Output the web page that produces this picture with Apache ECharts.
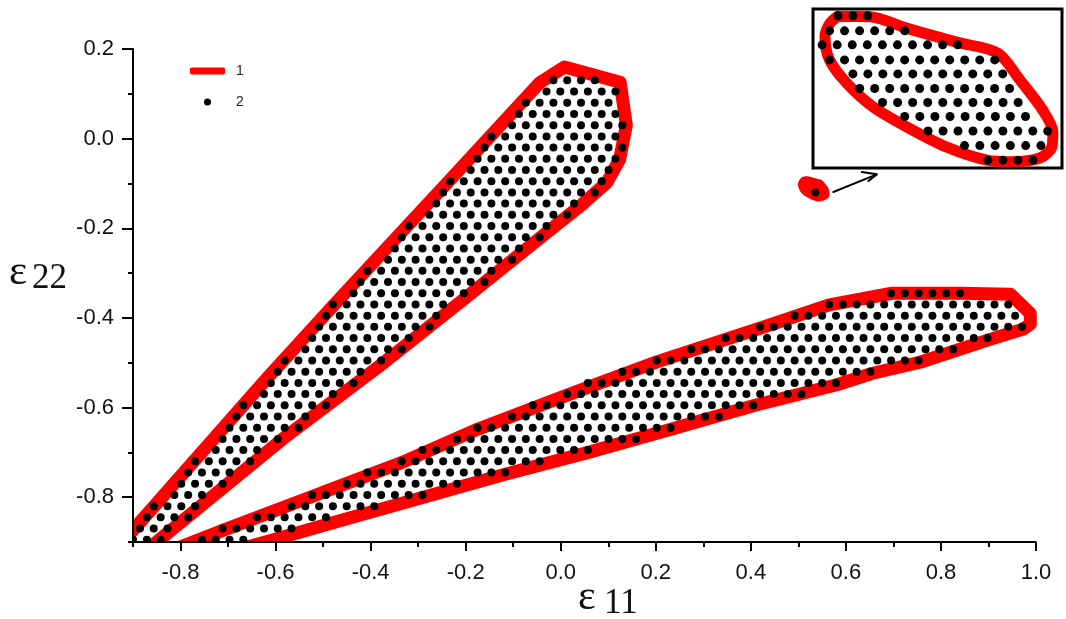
<!DOCTYPE html>
<html><head><meta charset="utf-8">
<script src="https://cdn.jsdelivr.net/npm/echarts@6/dist/echarts.min.js"></script>
<style>html,body{margin:0;padding:0;background:#fff}#c{width:1066px;height:619px}</style>
</head><body><div id="c"></div>
<script>
// ---- tick labels ----
const X_LABELS = [-0.8,-0.6,-0.4,-0.2,0,0.2,0.4,0.6,0.8,1.0];
const X_MINOR = [-0.9,-0.7,-0.5,-0.3,-0.1,0.1,0.3,0.5,0.7,0.9];
const Y_LABELS = [-0.8,-0.6,-0.4,-0.2,0,0.2];
const Y_MINOR = [-0.9,-0.7,-0.5,-0.3,-0.1,0.1];

// ---- boundary curves (series 1) [eps11, eps22] ----
const UPPER_BOUNDARY = [[-0.93,-0.91],[-0.892,-0.864],[-0.619,-0.536],[-0.480,-0.374],[-0.233,-0.092],[-0.044,0.125],[0.008,0.160],[0.125,0.126],[0.138,0.030],[0.124,-0.046],[0.097,-0.098],[0.040,-0.151],[-0.029,-0.209],[-0.212,-0.365],[-0.381,-0.507],[-0.585,-0.670],[-0.848,-0.898],[-0.90,-0.94]];
const LOWER_BOUNDARY = [[-0.83,-0.923],[-0.766,-0.897],[-0.711,-0.874],[-0.522,-0.798],[-0.335,-0.723],[-0.174,-0.648],[0.012,-0.573],[0.202,-0.498],[0.419,-0.423],[0.565,-0.371],[0.697,-0.345],[0.840,-0.345],[0.946,-0.347],[0.988,-0.390],[0.988,-0.414],[0.973,-0.425],[0.900,-0.449],[0.756,-0.499],[0.6545,-0.524],[0.581,-0.549],[0.405,-0.596],[0.234,-0.648],[0.058,-0.700],[-0.117,-0.749],[-0.289,-0.800],[-0.45,-0.848],[-0.612,-0.897],[-0.70,-0.923]];
const SMALL_BOUNDARY = [[0.5145,-0.0986],[0.5202,-0.0987],[0.5266,-0.1008],[0.5354,-0.1034],[0.5426,-0.1054],[0.5465,-0.1104],[0.5505,-0.1160],[0.5523,-0.1201],[0.5521,-0.1229],[0.5500,-0.1249],[0.5452,-0.1256],[0.5407,-0.1253],[0.5337,-0.1229],[0.5266,-0.1191],[0.5207,-0.1154],[0.5161,-0.1110],[0.5131,-0.1067],[0.5123,-0.1024],[0.5131,-0.1000],[0.5145,-0.0986]];

// ---- dot rows (series 2): [eps22, first eps11, last eps11, count] ----
const UPPER_DOT_ROWS = [
[0.130,-0.0154,0.0716,4],[0.105,-0.0299,0.1151,6],[0.080,-0.0734,0.1006,7],[0.055,-0.0879,0.1151,8],
[0.030,-0.1024,0.1296,9],[0.005,-0.1459,0.1151,10],[-0.020,-0.1604,0.1296,11],[-0.045,-0.1749,0.1151,11],
[-0.070,-0.1894,0.1006,11],[-0.095,-0.2329,0.0861,12],[-0.120,-0.2474,0.0716,12],[-0.145,-0.2619,0.0281,11],
[-0.170,-0.2764,0.0136,11],[-0.195,-0.3199,-0.0299,11],[-0.220,-0.3344,-0.0444,11],[-0.245,-0.3489,-0.0879,10],
[-0.270,-0.3634,-0.1024,10],[-0.295,-0.4069,-0.1459,10],[-0.320,-0.4214,-0.1604,10],[-0.345,-0.4359,-0.2039,9],
[-0.370,-0.4794,-0.2474,9],[-0.395,-0.4939,-0.2619,9],[-0.420,-0.5084,-0.2764,9],[-0.445,-0.5229,-0.3199,8],
[-0.470,-0.5374,-0.3344,8],[-0.495,-0.5809,-0.3779,8],[-0.520,-0.5954,-0.4214,7],[-0.545,-0.6099,-0.4359,7],
[-0.570,-0.6244,-0.4794,6],[-0.595,-0.6679,-0.4939,7],[-0.620,-0.6824,-0.5374,6],[-0.645,-0.6969,-0.5519,6],
[-0.670,-0.7114,-0.5954,5],[-0.695,-0.7259,-0.6389,4],[-0.720,-0.7694,-0.6534,5],[-0.745,-0.7839,-0.6969,4],
[-0.770,-0.7984,-0.7114,4],[-0.795,-0.8129,-0.7549,3],[-0.820,-0.8564,-0.7694,4],[-0.845,-0.8709,-0.7839,4],
[-0.870,-0.8854,-0.8274,3],[-0.895,-0.8999,-0.8419,3]
];
const LOWER_DOT_ROWS = [
[-0.345,0.6951,0.8401,6],[-0.370,0.5646,0.9416,14],[-0.395,0.4921,0.9561,17],[-0.420,0.4196,0.9706,20],
[-0.445,0.3471,0.8981,20],[-0.470,0.2746,0.8256,20],[-0.495,0.2021,0.7531,20],[-0.520,0.1296,0.6516,19],
[-0.545,0.0571,0.5791,19],[-0.570,0.0136,0.5066,18],[-0.595,-0.0589,0.4051,17],[-0.620,-0.1024,0.3326,16],
[-0.645,-0.1749,0.2311,15],[-0.670,-0.2184,0.1586,14],[-0.695,-0.2909,0.0571,13],[-0.720,-0.3344,-0.0444,11],
[-0.745,-0.4069,-0.1169,11],[-0.770,-0.4504,-0.2184,9],[-0.795,-0.5229,-0.2909,9],[-0.820,-0.5664,-0.3924,7],
[-0.845,-0.6389,-0.4939,6],[-0.870,-0.7114,-0.5664,6],[-0.895,-0.7549,-0.6679,4]
];
const SMALL_DOT_ROWS = [[-0.120,0.5356,0.5356,1]];
const INSET_DOT_ROWS = [
[-0.0985,0.5146,0.5198,3],[-0.1013,0.5131,0.5263,6],[-0.1039,0.5118,0.5356,10],[-0.1067,0.5131,0.5421,12],
[-0.1093,0.5172,0.5435,11],[-0.1120,0.5184,0.5447,11],[-0.1146,0.5224,0.5462,10],[-0.1172,0.5263,0.5475,9],
[-0.1199,0.5304,0.5514,9],[-0.1226,0.5368,0.5502,6],[-0.1253,0.5409,0.5488,4]
];
// inset window (zoomed view of the small region)
const INSET_X_RANGE = [0.5102, 0.5539];
const INSET_Y_RANGE = [-0.12676, -0.09725];
// arrow pointing from the small region to the inset
const ARROW_SHAFT = [[0.5737,-0.1191],[0.665,-0.0797]];
const ARROW_HEAD = [[0.6335,-0.0746],[0.665,-0.0797],[0.6474,-0.0947]];

function rowsToPoints(rows){
  const pts = [];
  rows.forEach(function(r){
    const y=r[0], a=r[1], b=r[2], n=r[3];
    for (let i=0;i<n;i++){ pts.push([n>1 ? a+(b-a)*i/(n-1) : a, y]); }
  });
  return pts;
}

const RED = '#ff0000';
const FONT = '"Liberation Sans", Arial, sans-serif';
const SERIF = '"Liberation Serif", "Times New Roman", serif';
const chart = echarts.init(document.getElementById('c'), null, {renderer:'canvas'});

function boundary(data, width, xi, smooth){
  return {type:'line', name:'1', data:data, xAxisIndex:xi, yAxisIndex:xi, showSymbol:false, symbol:'none',
    smooth:smooth||false, clip:true, silent:true, z:2,
    lineStyle:{color:RED, width:width, cap:'round', join:'round', opacity:1}, itemStyle:{color:RED}};
}
function dots(data, size, xi){
  return {type:'scatter', name:'2', data:data, xAxisIndex:xi, yAxisIndex:xi, symbol:'circle', symbolSize:size,
    silent:true, z:3, itemStyle:{color:'#000', opacity:1}};
}
function blackLine(data){
  return {type:'line', name:'arrow', data:data, showSymbol:false, symbol:'none', silent:true, z:4,
    lineStyle:{color:'#000', width:2, cap:'round'}, itemStyle:{color:'#000'}};
}

const tickStyle = {color:'#000', width:2};
const option = {
  animation:false,
  backgroundColor:'#fff',
  grid:[
    {left:133, top:49, right:30, bottom:77},
    {left:813, top:9, width:249, height:159, show:true, borderColor:'#000', borderWidth:3, backgroundColor:'#fff'}
  ],
  legend:{
    orient:'vertical', left:190, top:64, padding:0, itemWidth:35, itemHeight:7, itemGap:17, selectedMode:false,
    data:[{name:'1', icon:'roundRect'},{name:'2', icon:'circle'}],
    textStyle:{fontSize:14, color:'#222', fontFamily:FONT, padding:[0,0,0,6]}
  },
  xAxis:[
    {gridIndex:0, type:'value', min:-0.9, max:1.0, interval:0.1, position:'bottom', z:10,
     axisLine:{onZero:false, lineStyle:tickStyle},
     axisTick:{customValues:X_LABELS, length:9, lineStyle:tickStyle},
     axisLabel:{customValues:X_LABELS, formatter:function(v){return (+v).toFixed(1);}, fontSize:22, color:'#111', fontFamily:FONT, margin:20},
     splitLine:{show:false}},
    {gridIndex:0, type:'value', min:-0.9, max:1.0, interval:0.1, position:'bottom', z:10,
     axisLine:{show:false, onZero:false}, axisTick:{customValues:X_MINOR, length:5, lineStyle:tickStyle},
     axisLabel:{show:false}, splitLine:{show:false}},
    {gridIndex:1, type:'value', min:INSET_X_RANGE[0], max:INSET_X_RANGE[1], show:false, splitLine:{show:false}}
  ],
  yAxis:[
    {gridIndex:0, type:'value', min:-0.9, max:0.2, interval:0.1, position:'left', z:10,
     axisLine:{show:true, onZero:false, lineStyle:tickStyle},
     axisTick:{show:true, customValues:Y_LABELS, length:11, lineStyle:tickStyle},
     axisLabel:{customValues:Y_LABELS, formatter:function(v){return (+v).toFixed(1);}, fontSize:22, color:'#111', fontFamily:FONT, margin:19},
     splitLine:{show:false}},
    {gridIndex:0, type:'value', min:-0.9, max:0.2, interval:0.1, position:'left', z:10,
     axisLine:{show:false, onZero:false}, axisTick:{show:true, customValues:Y_MINOR, length:5, lineStyle:tickStyle},
     axisLabel:{show:false}, splitLine:{show:false}},
    {gridIndex:1, type:'value', min:INSET_Y_RANGE[0], max:INSET_Y_RANGE[1], show:false, splitLine:{show:false}}
  ],
  series:[
    boundary(UPPER_BOUNDARY, 13, 0),
    boundary(LOWER_BOUNDARY, 13, 0),
    boundary(SMALL_BOUNDARY, 13, 0),
    dots(rowsToPoints(UPPER_DOT_ROWS).concat(rowsToPoints(LOWER_DOT_ROWS), rowsToPoints(SMALL_DOT_ROWS)), 8, 0),
    blackLine(ARROW_SHAFT),
    blackLine(ARROW_HEAD),
    boundary(SMALL_BOUNDARY, 11, 2, 0.3),
    dots(rowsToPoints(INSET_DOT_ROWS), 9, 2)
  ]
};
chart.setOption(option);

// white masks just outside the plot area (the library widens its clip by half the line width)
const bl = chart.convertToPixel({gridIndex:0}, [-0.9, -0.9]);
const tr = chart.convertToPixel({gridIndex:0}, [1.0, 0.2]);
chart.setOption({
  graphic:[
    {type:'rect', z:5, silent:true, shape:{x:bl[0]-16, y:tr[1]-10, width:15.5, height:bl[1]-tr[1]+30}, style:{fill:'#fff'}},
    {type:'rect', z:5, silent:true, shape:{x:bl[0]-16, y:bl[1]+1, width:tr[0]-bl[0]+30, height:10}, style:{fill:'#fff'}},
    {type:'text', z:6, left:578, top:577, style:{text:'ε', font:'42px ' + SERIF, fill:'#111'}},
    {type:'text', z:6, left:604, top:586, style:{text:'11', font:'35px ' + SERIF, fill:'#111'}},
    {type:'text', z:6, left:9, top:251, style:{text:'ε', font:'43px ' + SERIF, fill:'#111'}},
    {type:'text', z:6, left:32, top:261, style:{text:'22', font:'35px ' + SERIF, fill:'#111'}}
  ]
});
</script></body></html>
